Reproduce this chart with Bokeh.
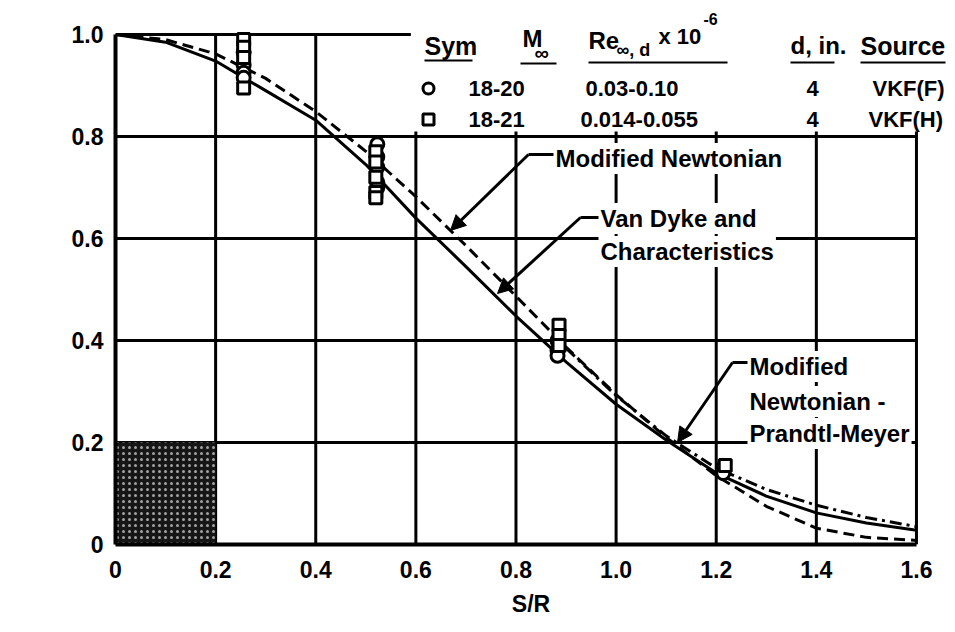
from bokeh.plotting import figure
from bokeh.models import Label, Arrow, NormalHead, FixedTicker
from bokeh.embed import file_html
from bokeh.resources import INLINE

# ---------------- data ----------------
x_ticks = [0, 0.2, 0.4, 0.6, 0.8, 1.0, 1.2, 1.4, 1.6]
x_tick_labels = ["0", "0.2", "0.4", "0.6", "0.8", "1.0", "1.2", "1.4", "1.6"]
y_ticks = [0, 0.2, 0.4, 0.6, 0.8, 1.0]
y_tick_labels = ["0", "0.2", "0.4", "0.6", "0.8", "1.0"]

# Modified Newtonian (dashed)
mn_sr = [0, 0.1, 0.2, 0.3, 0.4, 0.5, 0.6, 0.7, 0.8, 0.9, 1.0, 1.1, 1.2, 1.3, 1.4, 1.5, 1.6]
mn_p = [1.0, 0.99, 0.962, 0.914, 0.849, 0.771, 0.682, 0.586, 0.487, 0.387, 0.294, 0.21, 0.135, 0.075, 0.032, 0.014, 0.008]

# Van Dyke and Characteristics (solid)
vd_sr = [0, 0.1, 0.2, 0.3, 0.4, 0.5, 0.6, 0.7, 0.8, 0.9, 1.0, 1.1, 1.2, 1.3, 1.4, 1.5, 1.6]
vd_p = [1.0, 0.985, 0.948, 0.89, 0.832, 0.745, 0.64, 0.545, 0.448, 0.358, 0.275, 0.205, 0.14, 0.095, 0.062, 0.042, 0.028]

# Modified Newtonian - Prandtl-Meyer (dash-dot)
npm_sr = [0.9, 1.0, 1.1, 1.2, 1.3, 1.4, 1.5, 1.6]
npm_p = [0.385, 0.292, 0.213, 0.15, 0.108, 0.077, 0.053, 0.035]

# VKF(F) circles
circ_sr = [0.256, 0.256, 0.256, 0.256, 0.523, 0.523, 0.523, 0.523, 0.523, 0.883, 0.883, 0.883, 1.214, 1.214]
circ_p = [0.965, 0.94, 0.925, 0.915, 0.785, 0.76, 0.74, 0.71, 0.70, 0.40, 0.38, 0.37, 0.15, 0.14]
# VKF(H) squares
sq_sr = [0.256, 0.256, 0.256, 0.256, 0.52, 0.52, 0.52, 0.52, 0.52, 0.886, 0.886, 0.886, 1.218]
sq_p = [0.99, 0.975, 0.955, 0.895, 0.77, 0.75, 0.72, 0.69, 0.68, 0.43, 0.41, 0.39, 0.155]

FONT = "'Liberation Sans', Arial, sans-serif"

X_MAX_VIEW = 1.66    # extra room right of the 1.6 border for the legend text
Y_MAX_VIEW = 1.0667  # extra room above the 1.0 border for the legend header

p = figure(width=947, height=624, x_range=(0, X_MAX_VIEW), y_range=(0, Y_MAX_VIEW),
           output_backend="svg", toolbar_location=None,
           min_border_left=115, min_border_right=1, min_border_top=0, min_border_bottom=80)
p.background_fill_color = "white"
p.border_fill_color = "white"
p.outline_line_color = None

for ax, ticks, labs in ((p.xaxis, x_ticks, x_tick_labels), (p.yaxis, y_ticks, y_tick_labels)):
    ax.ticker = FixedTicker(ticks=ticks)
    ax.major_label_overrides = dict(zip(ticks, labs))
    ax.axis_line_color = "black"
    ax.axis_line_width = 4
    ax.major_tick_out = 0
    ax.major_tick_in = 0
    ax.minor_tick_out = 0
    ax.minor_tick_in = 0
    ax.major_label_text_font = FONT
    ax.major_label_text_font_style = "bold"
    ax.major_label_text_font_size = "23px"
    ax.major_label_text_color = "black"
p.xaxis.bounds = (0, 1.6)
p.yaxis.bounds = (0, 1.0)

p.xaxis.major_label_standoff = 16
p.yaxis.major_label_standoff = 12
p.xaxis.axis_label = "S/R"
p.xaxis.axis_label_text_font = FONT
p.xaxis.axis_label_text_font_style = "bold"
p.xaxis.axis_label_text_font_size = "23px"
p.xaxis.axis_label_text_color = "black"
p.xaxis.axis_label_standoff = 10

# grid drawn only inside the 0..1.6 x 0..1.0 box
p.xgrid.visible = False
p.ygrid.visible = False
y_lo, y_hi = y_ticks[0], y_ticks[-1]
x_lo, x_hi = x_ticks[0], x_ticks[-1]
p.segment(x0=x_ticks, y0=[y_lo] * len(x_ticks), x1=x_ticks, y1=[y_hi] * len(x_ticks),
          line_color="black", line_width=3)
p.segment(x0=[x_lo] * len(y_ticks), y0=y_ticks, x1=[x_hi] * len(y_ticks), y1=y_ticks,
          line_color="black", line_width=3)

# stippled box in lower-left corner
p.quad(left=[0], right=[0.2], bottom=[0], top=[0.2], fill_color="#161616",
       line_color=None, hatch_pattern="dot", hatch_color="white", hatch_scale=6, hatch_alpha=0.6)

# white area behind the legend table
p.quad(left=[0.59], right=[2.0], bottom=[0.81], top=[1.2], fill_color="white", line_color=None)

# curves
p.line(mn_sr, mn_p, line_color="black", line_width=3, line_dash="11 6")
p.line(vd_sr, vd_p, line_color="black", line_width=3)
p.line(npm_sr, npm_p, line_color="black", line_width=3, line_dash="12 5 3 5")

# data points
p.scatter(circ_sr, circ_p, marker="circle", size=13, fill_color="white", line_color="black", line_width=3)
p.scatter(sq_sr, sq_p, marker="square", size=12, fill_color="white", line_color="black", line_width=3)


def px(x):
    return (x - 115) / 500.6


def py(y):
    return (544 - y) / 510.0


def lab(text, x, y, size="23px", align="left", baseline="middle", bg=False):
    l = Label(x=px(x), y=py(y), text=text, text_font=FONT, text_font_style="bold",
              text_font_size=size, text_align=align, text_baseline=baseline, text_color="black")
    if bg:
        l.background_fill_color = "white"
        l.padding = 2
    p.add_layout(l)


def seg(x0, y0, x1, y1, head=False, w=3):
    a = Arrow(x_start=px(x0), y_start=py(y0), x_end=px(x1), y_end=py(y1), line_width=w,
              line_color="black",
              end=NormalHead(size=15, fill_color="black", line_color="black") if head else None)
    p.add_layout(a)


# annotations with leaders
lab("Modified Newtonian", 553, 158, size="24px", bg=True)
seg(553, 154, 528, 154)
seg(528, 154, 450, 230, head=True)

lab("Van Dyke and", 598, 218, size="24px", bg=True)
lab("Characteristics", 598, 251, size="24px", bg=True)
seg(598, 217, 580, 217)
seg(580, 217, 497, 293, head=True)

lab("Modified", 747, 366, size="24px", bg=True)
lab("Newtonian -", 747, 401, size="24px", bg=True)
lab("Prandtl-Meyer", 747, 433, size="24px", bg=True)
seg(747, 362, 732, 362)
seg(732, 362, 677, 442, head=True)

# legend table
lab("Sym", 424, 45, size="25px")
lab("M", 522, 38, size="24px")
lab("\u221e", 534, 52, size="20px")
lab("Re", 588, 40, size="24px")
lab("\u221e, d", 616, 49, size="18px")
lab("x 10", 658, 36, size="22px")
lab("-6", 703, 18, size="16px")
lab("d, in.", 790, 45, size="24px")
lab("Source", 860, 45, size="25px")
for (x0, x1, yy) in ((424, 472, 60), (520, 556, 63), (588, 727, 62), (790, 834, 62), (860, 945, 62)):
    seg(x0, yy, x1, yy, w=2)

p.scatter([px(428)], [py(88)], marker="circle", size=11, fill_color="white", line_color="black", line_width=3)
p.scatter([px(428)], [py(119)], marker="square", size=11, fill_color="white", line_color="black", line_width=3)
RS = "22px"
lab("18-20", 468, 88, size=RS)
lab("0.03-0.10", 585, 88, size=RS)
lab("4", 806, 88, size=RS)
lab("VKF(F)", 872, 88, size=RS)
lab("18-21", 468, 119, size=RS)
lab("0.014-0.055", 580, 119, size=RS)
lab("4", 806, 119, size=RS)
lab("VKF(H)", 868, 119, size=RS)

# y axis label p/p_S
lab("p/p", 30, 295)
lab("S", 66, 303, size="16px")

open("out.html", "w").write(file_html(p, INLINE))
